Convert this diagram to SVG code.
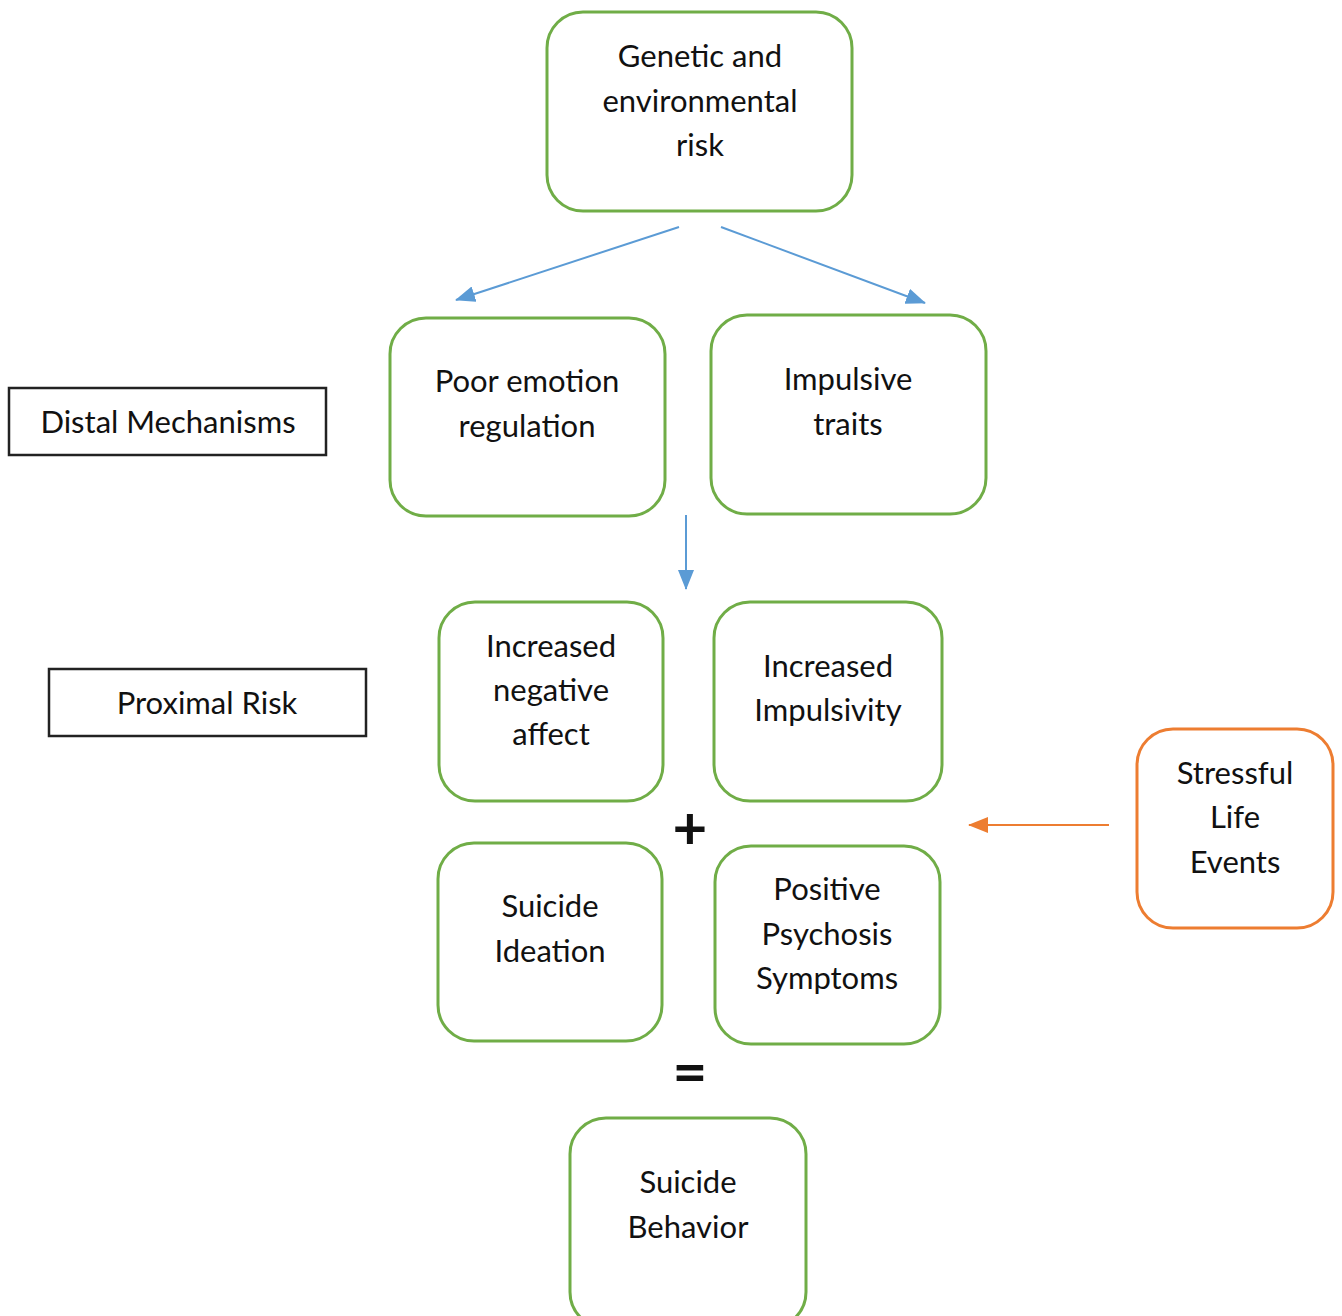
<svg xmlns="http://www.w3.org/2000/svg" width="1342" height="1316" viewBox="0 0 1342 1316">
<defs>
<style>
.g{fill:#fff;stroke:#70AD47;stroke-width:3}
.o{fill:#fff;stroke:#ED7D31;stroke-width:3}
.b{fill:#fff;stroke:#222;stroke-width:2.5}
text{font-family:Lato,"Open Sans","Liberation Sans",sans-serif;font-size:31px;fill:#111;text-anchor:middle}
.op{font-size:60px;font-weight:bold}
.bl{stroke:#5B9BD5;stroke-width:2;fill:none}
.ol{stroke:#ED7D31;stroke-width:2;fill:none}
</style>
<marker id="abL" markerWidth="20" markerHeight="16" refX="19" refY="8" orient="auto" markerUnits="userSpaceOnUse" viewBox="0 0 20 16"><path d="M0,0 L20,8 L0,16 z" fill="#5B9BD5"/></marker>
<marker id="aoL" markerWidth="20" markerHeight="16" refX="19" refY="8" orient="auto" markerUnits="userSpaceOnUse" viewBox="0 0 20 16"><path d="M0,0 L20,8 L0,16 z" fill="#ED7D31"/></marker>
</defs>
<rect width="1342" height="1316" fill="#fff"/>
<g id="connectors">
<line class="bl" x1="679" y1="227" x2="456" y2="300" marker-end="url(#abL)"/>
<line class="bl" x1="721" y1="227" x2="925" y2="303" marker-end="url(#abL)"/>
<line class="bl" x1="686" y1="515" x2="686" y2="589" marker-end="url(#abL)"/>
<line class="ol" x1="1109" y1="825" x2="969" y2="825" marker-end="url(#aoL)"/>
</g>
<g id="genetic"><rect class="g" x="547" y="12" width="305" height="199" rx="36"/><text x="700" y="67">Genetic and</text><text x="700" y="112">environmental</text><text x="700" y="156">risk</text></g>
<g id="poor-emotion"><rect class="g" x="390" y="318" width="275" height="198" rx="36"/><text x="527" y="392">Poor emotion</text><text x="527" y="437">regulation</text></g>
<g id="impulsive-traits"><rect class="g" x="711" y="315" width="275" height="199" rx="36"/><text x="848" y="390">Impulsive</text><text x="848" y="435">traits</text></g>
<g id="distal"><rect class="b" x="9" y="388" width="317" height="67"/><text x="168" y="433">Distal Mechanisms</text></g>
<g id="proximal"><rect class="b" x="49" y="669" width="317" height="67"/><text x="207" y="714">Proximal Risk</text></g>
<g id="neg-affect"><rect class="g" x="439" y="602" width="224" height="199" rx="36"/><text x="551" y="657">Increased</text><text x="551" y="701">negative</text><text x="551" y="745">affect</text></g>
<g id="impulsivity"><rect class="g" x="714" y="602" width="228" height="199" rx="36"/><text x="828" y="677">Increased</text><text x="828" y="721">Impulsivity</text></g>
<g id="plus"><text class="op" x="690" y="849">+</text></g>
<g id="ideation"><rect class="g" x="438" y="843" width="224" height="198" rx="36"/><text x="550" y="917">Suicide</text><text x="550" y="962">Ideation</text></g>
<g id="psychosis"><rect class="g" x="715" y="846" width="225" height="198" rx="36"/><text x="827" y="900">Positive</text><text x="827" y="945">Psychosis</text><text x="827" y="989">Symptoms</text></g>
<g id="equals"><text class="op" x="690" y="1093">=</text></g>
<g id="behavior"><rect class="g" x="570" y="1118" width="236" height="210" rx="36"/><text x="688" y="1193">Suicide</text><text x="688" y="1238">Behavior</text></g>
<g id="stressful"><rect class="o" x="1137" y="729" width="196" height="199" rx="36"/><text x="1235" y="784">Stressful</text><text x="1235" y="828">Life</text><text x="1235" y="873">Events</text></g>
</svg>
